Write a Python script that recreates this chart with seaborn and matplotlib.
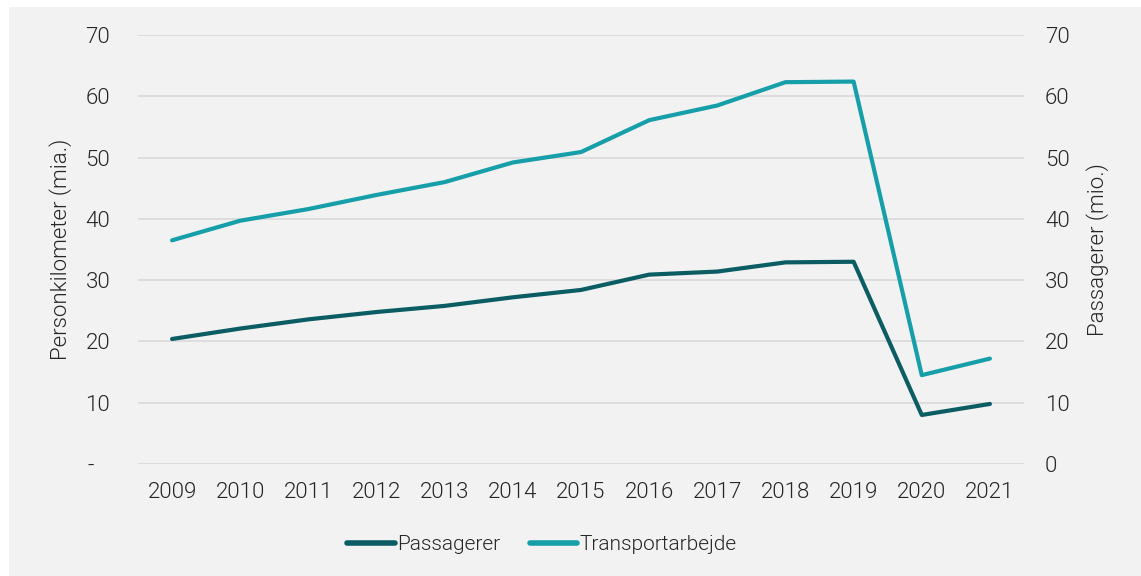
import matplotlib
matplotlib.use("Agg")
import matplotlib.pyplot as plt
import matplotlib.patches as mpatches
import numpy as np
import pandas as pd
import seaborn as sns

# data
years = [2009, 2010, 2011, 2012, 2013, 2014, 2015, 2016, 2017, 2018, 2019, 2020, 2021]
transportarbejde = [36.5, 39.7, 41.6, 43.9, 46.0, 49.2, 50.9, 56.1, 58.5, 62.3, 62.4, 14.5, 17.2]
passagerer = [20.4, 22.1, 23.6, 24.8, 25.8, 27.2, 28.4, 30.9, 31.4, 32.9, 33.0, 8.0, 9.8]
y_ticks = [0, 10, 20, 30, 40, 50, 60, 70]
left_labels = ["-   "] + [str(v) for v in y_ticks[1:]]
right_labels = [str(v) for v in y_ticks]

df = pd.DataFrame({"year": years, "Transportarbejde": transportarbejde, "Passagerer": passagerer})

c_pas = "#0b5d63"
c_tra = "#169fa9"
bg = "#f2f2f2"
txt = "#262626"
W = 300  # Roboto Light

sns.set_theme(style="white")
plt.rcParams["font.family"] = ["Roboto", "DejaVu Sans"]
plt.rcParams["font.weight"] = W
plt.rcParams["text.color"] = txt

fig = plt.figure(figsize=(11.41, 5.76), dpi=100)
fig.patch.set_facecolor("white")
# grey panel (white strip top and left like the reference)
fig.patches.append(mpatches.Rectangle((9 / 1141, 0), 1, 1 - 7 / 576, transform=fig.transFigure,
                                      facecolor=bg, edgecolor="none", zorder=-10))
ax = fig.add_axes([138 / 1141, 1 - 464 / 576, (1024 - 138) / 1141, (464 - 35) / 576])
ax.set_facecolor("none")
ax2 = ax.twinx()
ax2.set_facecolor("none")

sns.lineplot(data=df, x="year", y="Transportarbejde", ax=ax, color=c_tra, linewidth=3,
             solid_capstyle="round", solid_joinstyle="round")
sns.lineplot(data=df, x="year", y="Passagerer", ax=ax2, color=c_pas, linewidth=3,
             solid_capstyle="round", solid_joinstyle="round")

for a in (ax, ax2):
    a.set_ylim(0, 70)
    a.set_xlim(2008.5, 2021.5)
    a.set_yticks(y_ticks)
    for s in a.spines.values():
        s.set_visible(False)
    a.tick_params(length=0, labelsize=16, colors=txt)

ax.set_xticks(years)
ax.set_xticklabels([str(y) for y in years])
ax.tick_params(axis="x", pad=13)
ax.set_yticklabels(left_labels)
ax.tick_params(axis="y", pad=20)
ax2.set_yticklabels(right_labels)
ax2.tick_params(axis="y", pad=15)
for lab in ax.get_xticklabels() + ax.get_yticklabels() + ax2.get_yticklabels():
    lab.set_fontweight(W)

ax.yaxis.grid(True, color="#d9d9d9", linewidth=1.2)
ax.set_axisbelow(True)
ax.set_xlabel("")
ax.set_ylabel("Personkilometer (mia.)", fontsize=16, color=txt, fontweight=W, labelpad=10)
ax2.set_ylabel("Passagerer (mio.)", fontsize=16, color=txt, fontweight=W, labelpad=12)

handles = [plt.Line2D([], [], color=c_pas, linewidth=4, solid_capstyle="round"),
           plt.Line2D([], [], color=c_tra, linewidth=4, solid_capstyle="round")]
leg = fig.legend(handles, ["Passagerer", "Transportarbejde"], loc="center",
                 bbox_to_anchor=(542 / 1141, 1 - 545 / 576), ncol=2, frameon=False,
                 fontsize=15, handlelength=2.3, handletextpad=0.1, columnspacing=1.4)
for t in leg.get_texts():
    t.set_fontweight(W)
    t.set_color(txt)

fig.savefig("out.png", dpi=100, facecolor=fig.get_facecolor())
